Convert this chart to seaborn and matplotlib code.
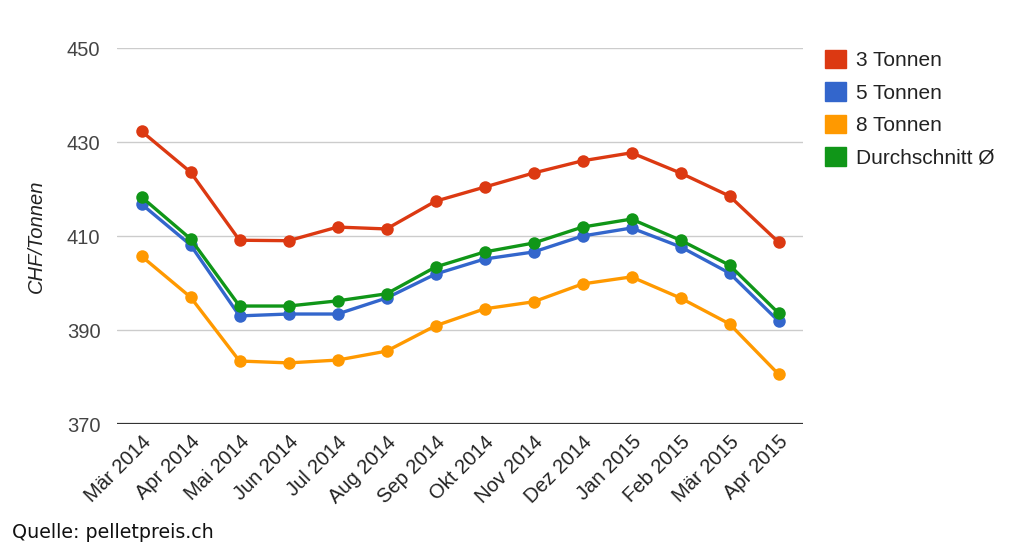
import matplotlib
matplotlib.use("Agg")
import matplotlib.pyplot as plt
from matplotlib.patches import Patch
import seaborn as sns
import pandas as pd

months = ["Mär 2014", "Apr 2014", "Mai 2014", "Jun 2014", "Jul 2014", "Aug 2014",
          "Sep 2014", "Okt 2014", "Nov 2014", "Dez 2014", "Jan 2015", "Feb 2015",
          "Mär 2015", "Apr 2015"]
t3 = [432.3, 423.6, 409.1, 409.0, 411.9, 411.5, 417.4, 420.4, 423.4, 426.0, 427.7, 423.4, 418.5, 408.7]
t5 = [416.8, 408.1, 393.0, 393.4, 393.4, 396.8, 401.9, 405.1, 406.6, 410.0, 411.7, 407.7, 402.1, 391.9]
t8 = [405.7, 397.0, 383.4, 383.0, 383.6, 385.5, 390.9, 394.5, 396.0, 399.8, 401.3, 396.8, 391.3, 380.6]
avg = [418.3, 409.4, 395.1, 395.1, 396.2, 397.7, 403.4, 406.6, 408.5, 411.9, 413.6, 409.1, 403.8, 393.6]
series_names = ["3 Tonnen", "5 Tonnen", "8 Tonnen", "Durchschnitt Ø"]
colors = ["#dc3912", "#3366cc", "#ff9900", "#109618"]
yticks = [370, 390, 410, 430, 450]

rows = []
for name, vals in zip(series_names, [t3, t5, t8, avg]):
    for i, v in enumerate(vals):
        rows.append({"idx": i, "value": v, "series": name})
df = pd.DataFrame(rows)

sns.set_theme(style="white")
plt.rcParams["font.family"] = ["Liberation Sans", "DejaVu Sans"]

fig = plt.figure(figsize=(10.24, 5.56), dpi=100)
ax = fig.add_axes([117/1024, 1 - 424/556, 686/1024, 376/556])

sns.lineplot(data=df, x="idx", y="value", hue="series", hue_order=series_names,
             palette=colors, marker="o", markersize=9, markeredgewidth=0,
             linewidth=2.4, legend=False, ax=ax, zorder=3)

ax.set_xlim(-0.5, 13.5)
ax.set_ylim(370, 450)
ax.set_yticks(yticks)
ax.set_yticklabels([str(v) for v in yticks], fontsize=14.5, color="#444444")
ax.set_xticks(range(len(months)))
ax.set_xticklabels(months, rotation=45, ha="right", rotation_mode="anchor",
                   fontsize=14.5, color="#222222")
ax.tick_params(axis="y", length=0, pad=12)
ax.tick_params(axis="x", length=0, pad=6)
for s in ax.spines.values():
    s.set_visible(False)
for v in yticks[1:]:
    ax.axhline(v, color="#cccccc", linewidth=1, zorder=1)
ax.axhline(370, color="#333333", linewidth=1.6, zorder=2)
ax.set_xlabel("")
ax.set_ylabel("CHF/Tonnen", fontsize=14.5, style="italic", color="#222222", va="center")
ax.yaxis.set_label_coords(-0.117, 0.5)

handles = [Patch(facecolor=c, edgecolor=c) for c in colors]
fig.legend(handles, series_names, loc="upper left", bbox_to_anchor=(806/1024, 1 - 31/556),
           frameon=False, fontsize=15, handlelength=1.0, handleheight=1.0,
           handletextpad=0.5, labelspacing=0.58, labelcolor="#222222")

fig.text(12/1024, 1 - 538/556, "Quelle: pelletpreis.ch", fontsize=13.7,
         family="DejaVu Sans", color="#111111", va="baseline")

fig.savefig("out.png", dpi=100)
